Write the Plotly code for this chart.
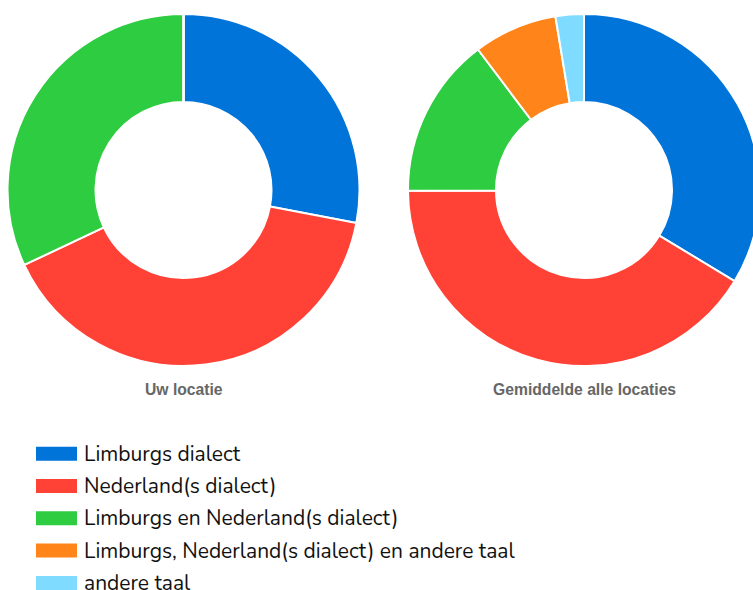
import plotly.graph_objects as go

labels = ["Limburgs dialect", "Nederland(s dialect)", "Limburgs en Nederland(s dialect)",
          "Limburgs, Nederland(s dialect) en andere taal", "andere taal"]
colors = ["#0074D9", "#FF4136", "#2ECC40", "#FF851B", "#7FDBFF"]
uw_locatie = [28, 40, 32, 0, 0]
alle_locaties = [33.7, 41.3, 14.8, 7.7, 2.6]
titles = ["Uw locatie", "Gemiddelde alle locaties"]

W, H = 770, 590

def px_x(x):
    return x / W

def px_y(y):
    return 1 - y / H

fig = go.Figure()
pie_specs = [(uw_locatie, 183.5, titles[0]), (alle_locaties, 584, titles[1])]
R = 176
for vals, cx, title in pie_specs:
    fig.add_trace(go.Pie(
        labels=labels, values=vals, hole=0.5, sort=False, direction="clockwise",
        rotation=0, marker=dict(colors=colors, line=dict(color="white", width=2)),
        textinfo="none", hoverinfo="label+percent", showlegend=False,
        domain=dict(x=[px_x(cx - R), px_x(cx + R)], y=[px_y(190 + R), px_y(190 - R)]),
    ))
    fig.add_annotation(x=px_x(cx), y=px_y(389), xref="paper", yref="paper",
                       text="<b>%s</b>" % title, showarrow=False,
                       font=dict(family="Liberation Sans, Arial", size=15.7, color="#666666"),
                       xanchor="center", yanchor="middle")

row0, step = 453.7, 32.3
for i, (lab, col) in enumerate(zip(labels, colors)):
    yc = row0 + i * step
    fig.add_shape(type="rect", xref="paper", yref="paper",
                  x0=px_x(36), x1=px_x(77), y0=px_y(yc - 7), y1=px_y(yc + 7),
                  fillcolor=col, line=dict(width=0))
    fig.add_annotation(x=px_x(82), y=px_y(yc), xref="paper", yref="paper",
                       text=lab, showarrow=False, xanchor="left", yanchor="middle",
                       font=dict(family="Nunito, Open Sans, sans-serif", size=21, color="#111111"))

fig.update_layout(width=W, height=H, margin=dict(l=0, r=0, t=0, b=0),
                  paper_bgcolor="white", plot_bgcolor="white")

fig.write_html("out.html", config={"displayModeBar": False},
               post_script="document.body.style.margin='0';document.body.style.overflow='hidden';")
